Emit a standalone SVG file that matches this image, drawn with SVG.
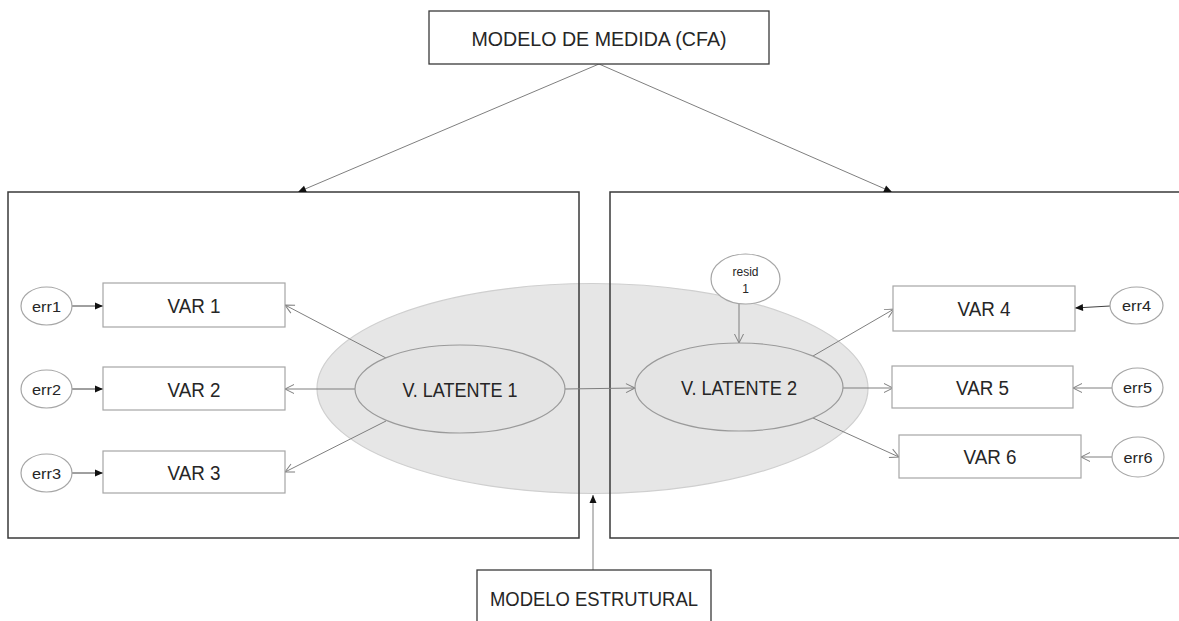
<svg xmlns="http://www.w3.org/2000/svg" width="1179" height="621" viewBox="0 0 1179 621">
  <style>
    text { font-family: "Liberation Sans", Arial, sans-serif; fill: #262626; text-anchor: middle; }
    .frame { fill: none; stroke: #3a3a3a; stroke-width: 1.5; }
    .title { fill: #ffffff; stroke: #3a3a3a; stroke-width: 1.3; }
    .var { fill: #ffffff; stroke: #a6a6a6; stroke-width: 1.2; }
    .err { fill: #ffffff; stroke: #a6a6a6; stroke-width: 1.2; }
    .lat { fill: #e4e4e4; stroke: #9a9a9a; stroke-width: 1.2; }
    .zone { fill: #e6e6e6; stroke: #cfcfcf; stroke-width: 1.2; }
    .lbl { font-size: 19.5px; }
    .small { font-size: 15px; }
    .tiny { font-size: 12px; }
    .edge { fill: none; stroke: #7f7f7f; stroke-width: 1; }
    .edge-dark { fill: none; stroke: #404040; stroke-width: 1; }
  </style>
  <defs>
    <marker id="solid" markerUnits="userSpaceOnUse" markerWidth="9" markerHeight="8" refX="8" refY="3.5" orient="auto" overflow="visible">
      <path d="M0,0 L8,3.5 L0,7 Z" fill="#111111"/>
    </marker>
    <marker id="open" markerUnits="userSpaceOnUse" markerWidth="10" markerHeight="10" refX="9" refY="4.5" orient="auto" overflow="visible">
      <path d="M0,0 L9,4.5 L0,9" fill="none" stroke="#7f7f7f" stroke-width="1"/>
    </marker>
  </defs>

  <!-- structural zone -->
  <g id="structural-zone">
    <ellipse class="zone" cx="592.5" cy="388.5" rx="275.5" ry="105"/>
  </g>

  <!-- measurement frames -->
  <g id="frame-left">
    <rect class="frame" x="8" y="192" width="571" height="346"/>
  </g>
  <g id="frame-right">
    <rect class="frame" x="610" y="192" width="580" height="346"/>
  </g>

  <!-- connectors -->
  <g id="connectors">
    <line class="edge" x1="599" y1="64" x2="298" y2="192" marker-end="url(#solid)"/>
    <line class="edge" x1="599" y1="64" x2="892" y2="192" marker-end="url(#solid)"/>
    <line class="edge" x1="593" y1="570" x2="593" y2="495" marker-end="url(#solid)"/>

    <line class="edge-dark" x1="72" y1="306" x2="103" y2="306" marker-end="url(#solid)"/>
    <line class="edge-dark" x1="72" y1="389" x2="103" y2="389" marker-end="url(#solid)"/>
    <line class="edge-dark" x1="72" y1="473" x2="103" y2="473" marker-end="url(#solid)"/>

    <line class="edge" x1="386" y1="358" x2="285" y2="305" marker-end="url(#open)"/>
    <line class="edge" x1="355" y1="389" x2="285" y2="389" marker-end="url(#open)"/>
    <line class="edge" x1="386" y1="421" x2="285" y2="472" marker-end="url(#open)"/>

    <line class="edge" x1="565" y1="389" x2="635" y2="388" marker-end="url(#open)"/>
    <line class="edge" x1="739" y1="304" x2="739" y2="343" marker-end="url(#open)"/>

    <line class="edge" x1="813" y1="356" x2="894" y2="309" marker-end="url(#open)"/>
    <line class="edge" x1="843" y1="388" x2="893" y2="388" marker-end="url(#open)"/>
    <line class="edge" x1="813" y1="418" x2="899" y2="457" marker-end="url(#open)"/>

    <line class="edge-dark" x1="1110" y1="306" x2="1075" y2="308" marker-end="url(#solid)"/>
    <line class="edge" x1="1112" y1="388" x2="1073" y2="388" marker-end="url(#open)"/>
    <line class="edge" x1="1112" y1="457" x2="1081" y2="457" marker-end="url(#open)"/>
  </g>

  <!-- titles -->
  <g id="title-cfa">
    <rect class="title" x="429" y="11" width="340" height="53"/>
    <text x="599" y="45.5" style="font-size:19.5px" textLength="255" lengthAdjust="spacingAndGlyphs">MODELO DE MEDIDA (CFA)</text>
  </g>
  <g id="title-structural">
    <rect class="title" x="477" y="570" width="234" height="60"/>
    <text x="594" y="606" style="font-size:19.5px" textLength="208" lengthAdjust="spacingAndGlyphs">MODELO ESTRUTURAL</text>
  </g>

  <!-- latent variables -->
  <g id="latent-1">
    <ellipse class="lat" cx="460" cy="389" rx="105" ry="44"/>
    <text class="lbl" x="460" y="396.5" textLength="115" lengthAdjust="spacingAndGlyphs">V. LATENTE 1</text>
  </g>
  <g id="latent-2">
    <ellipse class="lat" cx="739" cy="387" rx="104" ry="44"/>
    <text class="lbl" x="739" y="394.5" textLength="116" lengthAdjust="spacingAndGlyphs">V. LATENTE 2</text>
  </g>
  <g id="resid-1">
    <ellipse class="err" cx="745.5" cy="279" rx="34.5" ry="25"/>
    <text class="tiny" x="745.5" y="276">resid</text>
    <text class="tiny" x="745.5" y="293">1</text>
  </g>

  <!-- observed variables -->
  <g id="var-1">
    <rect class="var" x="103" y="283" width="182" height="44"/>
    <text class="lbl" x="194" y="312.5" textLength="53" lengthAdjust="spacingAndGlyphs">VAR 1</text>
  </g>
  <g id="var-2">
    <rect class="var" x="103" y="367" width="182" height="43"/>
    <text class="lbl" x="194" y="396.5" textLength="53" lengthAdjust="spacingAndGlyphs">VAR 2</text>
  </g>
  <g id="var-3">
    <rect class="var" x="103" y="451" width="182" height="42"/>
    <text class="lbl" x="194" y="479.5" textLength="53" lengthAdjust="spacingAndGlyphs">VAR 3</text>
  </g>
  <g id="var-4">
    <rect class="var" x="893" y="286" width="182" height="45"/>
    <text class="lbl" x="984" y="315.5" textLength="53" lengthAdjust="spacingAndGlyphs">VAR 4</text>
  </g>
  <g id="var-5">
    <rect class="var" x="892" y="366" width="181" height="42"/>
    <text class="lbl" x="982.5" y="394.5" textLength="53" lengthAdjust="spacingAndGlyphs">VAR 5</text>
  </g>
  <g id="var-6">
    <rect class="var" x="899" y="435" width="182" height="43"/>
    <text class="lbl" x="990" y="464" textLength="53" lengthAdjust="spacingAndGlyphs">VAR 6</text>
  </g>

  <!-- error terms -->
  <g id="err-1">
    <ellipse class="err" cx="46.5" cy="306" rx="25.5" ry="19"/>
    <text class="small" x="46.5" y="311.5" textLength="29" lengthAdjust="spacingAndGlyphs">err1</text>
  </g>
  <g id="err-2">
    <ellipse class="err" cx="46.5" cy="389" rx="25.5" ry="19"/>
    <text class="small" x="46.5" y="394.5" textLength="29" lengthAdjust="spacingAndGlyphs">err2</text>
  </g>
  <g id="err-3">
    <ellipse class="err" cx="46.5" cy="473" rx="25.5" ry="19"/>
    <text class="small" x="46.5" y="478.5" textLength="29" lengthAdjust="spacingAndGlyphs">err3</text>
  </g>
  <g id="err-4">
    <ellipse class="err" cx="1136.5" cy="305.5" rx="26.5" ry="18.5"/>
    <text class="small" x="1136.5" y="311" textLength="29" lengthAdjust="spacingAndGlyphs">err4</text>
  </g>
  <g id="err-5">
    <ellipse class="err" cx="1137.5" cy="387.5" rx="25.5" ry="19.5"/>
    <text class="small" x="1137.5" y="393" textLength="29" lengthAdjust="spacingAndGlyphs">err5</text>
  </g>
  <g id="err-6">
    <ellipse class="err" cx="1138" cy="457" rx="26" ry="20"/>
    <text class="small" x="1138" y="462.5" textLength="29" lengthAdjust="spacingAndGlyphs">err6</text>
  </g>
</svg>
